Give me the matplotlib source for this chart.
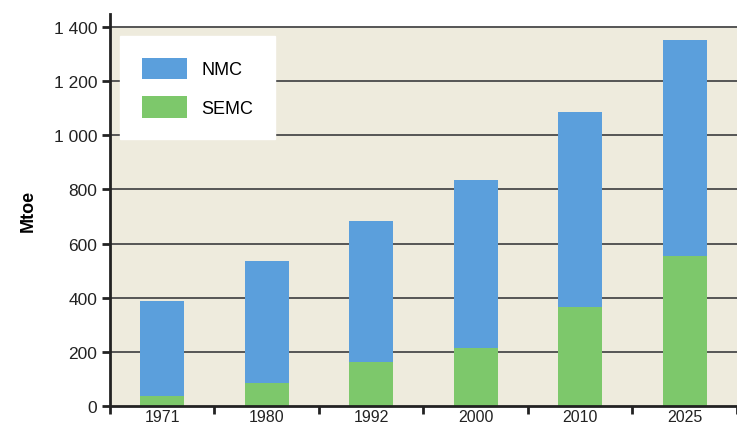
import numpy as np
import matplotlib.pyplot as plt
from matplotlib.ticker import FuncFormatter

plt.rcParams['font.family'] = ['Liberation Sans', 'DejaVu Sans']

# data (Mtoe)
years = ['1971', '1980', '1992', '2000', '2010', '2025']
semc = [38, 84, 164, 213, 365, 555]
total = [389, 534, 685, 835, 1085, 1353]
nmc = [t - s for t, s in zip(total, semc)]
yticks = [0, 200, 400, 600, 800, 1000, 1200, 1400]

blue = '#5b9fdc'
green = '#7dc86b'
beige = '#eeebdd'

fig = plt.figure(figsize=(7.37, 4.27), dpi=100)
ax = fig.add_axes([0.149, 0.047, 0.851, 0.919])

x = np.arange(len(years))
ax.axhspan(0, 1400, color=beige, zorder=0)
for yv in yticks[1:]:
    ax.axhline(yv, color='#555555', lw=1.4, zorder=1)

ax.bar(x, semc, width=0.42, color=green, zorder=2, label='SEMC')
ax.bar(x, nmc, bottom=semc, width=0.42, color=blue, zorder=2, label='NMC')

ax.set_xlim(-0.5, 5.44)
ax.set_ylim(0, 1450)

ax.set_xticks(np.arange(-0.5, 6, 1.0))
ax.set_xticklabels([])
ax.set_xticks(x, minor=True)
ax.set_xticklabels(years, minor=True, fontsize=11.5, color='#222222')
ax.tick_params(axis='x', which='major', length=6, width=2, color='#222222')
ax.tick_params(axis='x', which='minor', length=0, pad=2)

ax.set_yticks(yticks)
ax.yaxis.set_major_formatter(FuncFormatter(lambda v, p: f'{int(v):,}'.replace(',', ' ')))
ax.tick_params(axis='y', length=6, width=2, color='#222222', labelsize=12.5,
               labelcolor='#222222', pad=3)
ax.set_ylabel('Mtoe', fontsize=13, fontweight='bold', labelpad=12)

for s in ['top', 'right']:
    ax.spines[s].set_visible(False)
for s in ['left', 'bottom']:
    ax.spines[s].set_linewidth(2)
    ax.spines[s].set_color('#222222')
ax.set_facecolor('white')

h, l = ax.get_legend_handles_labels()
leg = ax.legend(h[::-1], l[::-1], loc='upper left', bbox_to_anchor=(0.016, 0.943),
                frameon=True, fancybox=False, fontsize=13, handlelength=2.5,
                handleheight=1.45, borderpad=1.2, labelspacing=0.95, handletextpad=0.8,
                borderaxespad=0.0)
leg.get_frame().set_facecolor('white')
leg.get_frame().set_edgecolor('white')
leg.get_frame().set_alpha(1)
leg.set_zorder(5)

fig.savefig('out.png', dpi=100)
